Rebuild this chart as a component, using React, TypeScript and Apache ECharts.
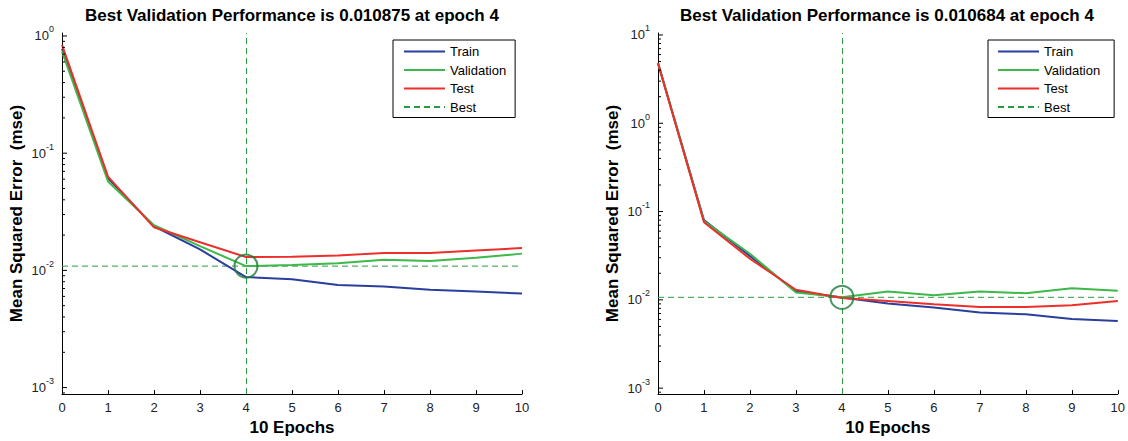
import React, { useEffect, useRef } from "react";
import * as echarts from "echarts";

const epochs = [0, 1, 2, 3, 4, 5, 6, 7, 8, 9, 10];
const xTickLabels = ["0", "1", "2", "3", "4", "5", "6", "7", "8", "9", "10"];
const seriesNames = ["Train", "Validation", "Test", "Best"];

const leftTrain = [0.78, 0.061, 0.0238, 0.0151, 0.00877, 0.0084, 0.0075, 0.0073, 0.00685, 0.0066, 0.00634];
const leftValidation = [0.74, 0.0574, 0.0243, 0.0161, 0.010875, 0.0111, 0.0115, 0.0123, 0.012, 0.0128, 0.0139];
const leftTest = [0.84, 0.063, 0.0233, 0.0174, 0.013, 0.0131, 0.0134, 0.0141, 0.0141, 0.0148, 0.0155];
const leftBest = 0.010875;
const leftBestEpoch = 4;

const rightTrain = [4.8, 0.08, 0.0313, 0.0125, 0.0106, 0.0091, 0.0082, 0.0072, 0.00686, 0.00606, 0.00575];
const rightValidation = [4.8, 0.078, 0.0333, 0.0121, 0.010684, 0.0124, 0.0113, 0.0124, 0.0119, 0.0135, 0.0127];
const rightTest = [4.8, 0.0755, 0.0292, 0.013, 0.0105, 0.0097, 0.0089, 0.0083, 0.0083, 0.0087, 0.0097];
const rightBest = 0.010684;
const rightBestEpoch = 4;

const leftTitle = "Best Validation Performance is 0.010875 at epoch 4";
const rightTitle = "Best Validation Performance is 0.010684 at epoch 4";
const yName = "Mean Squared Error  (mse)";
const xName = "10 Epochs";

// axis ranges (slightly beyond decades, as in the reference)
const leftYMin = 0.00088;
const leftYMax = 1.06;
const rightYMin = 0.000856;
const rightYMax = 10.53;

const BLUE = "#2a3f9d";
const GREEN = "#3db84a";
const RED = "#ec2f2a";
const BEST = "#2c9a3e";
const CIRCLE = "#1f7a3a";
const FONT = "'Liberation Sans', Arial, Helvetica, sans-serif";

function logTicks(min: number, max: number) {
  const out: { v: number; major: boolean }[] = [];
  for (let k = -5; k <= 2; k++) {
    for (let m = 1; m <= 9; m++) {
      const v = m * Math.pow(10, k);
      if (v >= min && v <= max) out.push({ v, major: m === 1 });
    }
  }
  return out;
}

function buildPlot(
  idx: number,
  train: number[],
  validation: number[],
  test: number[],
  best: number,
  bestEpoch: number,
  yMin: number,
  yMax: number
) {
  const ticks = logTicks(yMin, yMax);
  const common = { xAxisIndex: idx, yAxisIndex: idx };
  const mk = (name: string, vals: number[], color: string) => ({
    ...common,
    name,
    type: "line",
    data: epochs.map((e, i) => [e, vals[i]]),
    symbol: "none",
    lineStyle: { color, width: 2 },
    itemStyle: { color },
    z: 3,
  });
  return [
    mk("Train", train, BLUE),
    mk("Validation", validation, GREEN),
    mk("Test", test, RED),
    {
      ...common,
      name: "Best",
      type: "line",
      data: [
        [epochs[0], best],
        [epochs[epochs.length - 1], best],
      ],
      symbol: "none",
      lineStyle: { color: BEST, width: 1, type: [6, 4] },
      itemStyle: { color: BEST },
      z: 2,
      markLine: {
        silent: true,
        symbol: "none",
        label: { show: false },
        lineStyle: { color: BEST, width: 1, type: [6, 4] },
        data: [{ xAxis: bestEpoch }],
      },
    },
    {
      ...common,
      name: "BestPoint",
      type: "scatter",
      data: [[bestEpoch, best]],
      symbol: "circle",
      symbolSize: 23,
      itemStyle: { color: "rgba(0,0,0,0)", borderColor: CIRCLE, borderWidth: 2 },
      z: 5,
    },
    {
      ...common,
      name: "yTicks",
      type: "custom",
      clip: false,
      data: ticks.map((t) => [0, t.v, t.major ? 5 : 3]),
      renderItem: (params: any, api: any) => {
        const p = api.coord([api.value(0), api.value(1)]);
        const len = api.value(2);
        return {
          type: "line",
          shape: { x1: p[0], y1: p[1], x2: p[0] + len, y2: p[1] },
          style: { stroke: "#000", lineWidth: 1 },
        };
      },
      z: 6,
    },
  ];
}

function yLabel(v: number) {
  const l = Math.log10(v);
  const e = Math.round(l);
  if (Math.abs(l - e) > 1e-6) return "";
  return `{b|10}{s|${e}}`;
}

export default function App() {
  const ref = useRef<HTMLDivElement>(null);
  useEffect(() => {
    if (!ref.current) return;
    const chart = echarts.init(ref.current, undefined, { renderer: "svg" });
    const grids = [
      { left: 62, top: 33, width: 460, height: 362 },
      { left: 658, top: 33, width: 460, height: 362 },
    ];
    const xAxis = [0, 1].map((i) => ({
      type: "value",
      gridIndex: i,
      min: epochs[0],
      max: epochs[epochs.length - 1],
      interval: 1,
      name: xName,
      nameLocation: "middle",
      nameGap: 24,
      nameTextStyle: { fontSize: 17, fontWeight: "bold", color: "#000", fontFamily: FONT, verticalAlign: "top" },
      axisLine: { show: true, lineStyle: { color: "#000", width: 1 } },
      axisTick: { show: true, inside: true, length: 4, lineStyle: { color: "#000" } },
      axisLabel: {
        fontSize: 13,
        color: "#222",
        fontFamily: FONT,
        margin: 7,
        formatter: (v: number) => xTickLabels[epochs.indexOf(v)] ?? "",
      },
      splitLine: { show: false },
    }));
    const yRanges = [
      [leftYMin, leftYMax],
      [rightYMin, rightYMax],
    ];
    const yAxis = [0, 1].map((i) => ({
      type: "log",
      logBase: 10,
      gridIndex: i,
      min: yRanges[i][0],
      max: yRanges[i][1],
      name: yName,
      nameLocation: "middle",
      nameRotate: 90,
      nameGap: 37,
      nameTextStyle: { fontSize: 17, fontWeight: "bold", color: "#000", fontFamily: FONT },
      axisLine: { show: true, lineStyle: { color: "#000", width: 1 } },
      axisTick: { show: false },
      axisLabel: {
        margin: 8,
        showMinLabel: false,
        showMaxLabel: false,
        formatter: yLabel,
        rich: {
          b: { fontSize: 13, color: "#222", fontFamily: FONT, lineHeight: 22 },
          s: { fontSize: 9, color: "#222", fontFamily: FONT, lineHeight: 10, verticalAlign: "top" },
        },
      },
      splitLine: { show: false },
    }));
    const legendBase = {
      data: seriesNames,
      orient: "vertical",
      top: 40,
      itemWidth: 41,
      itemHeight: 14,
      itemGap: 5.5,
      backgroundColor: "#fff",
      borderColor: "#000",
      borderWidth: 1,
      borderRadius: 0,
      itemStyle: { opacity: 0 },
      textStyle: { fontSize: 13, color: "#000", fontFamily: FONT },
      selectedMode: false,
    };
    chart.setOption({
      animation: false,
      backgroundColor: "#fff",
      grid: grids,
      xAxis,
      yAxis,
      legend: [
        { ...legendBase, left: 393, padding: [5, 9, 4, 10] },
        { ...legendBase, left: 988, padding: [5, 14, 4, 9] },
      ],
      graphic: [
        {
          type: "text",
          x: 292,
          y: 15,
          style: { text: leftTitle, fontSize: 17, fontWeight: "bold", fontFamily: FONT, fill: "#000", align: "center", verticalAlign: "middle" },
        },
        {
          type: "text",
          x: 887,
          y: 15,
          style: { text: rightTitle, fontSize: 17, fontWeight: "bold", fontFamily: FONT, fill: "#000", align: "center", verticalAlign: "middle" },
        },
      ],
      series: [
        ...buildPlot(0, leftTrain, leftValidation, leftTest, leftBest, leftBestEpoch, leftYMin, leftYMax),
        ...buildPlot(1, rightTrain, rightValidation, rightTest, rightBest, rightBestEpoch, rightYMin, rightYMax),
      ],
    });
    return () => chart.dispose();
  }, []);
  return (
    <div
      ref={ref}
      style={{ position: "fixed", left: 0, top: 0, width: 1128, height: 441, background: "#fff" }}
    />
  );
}
